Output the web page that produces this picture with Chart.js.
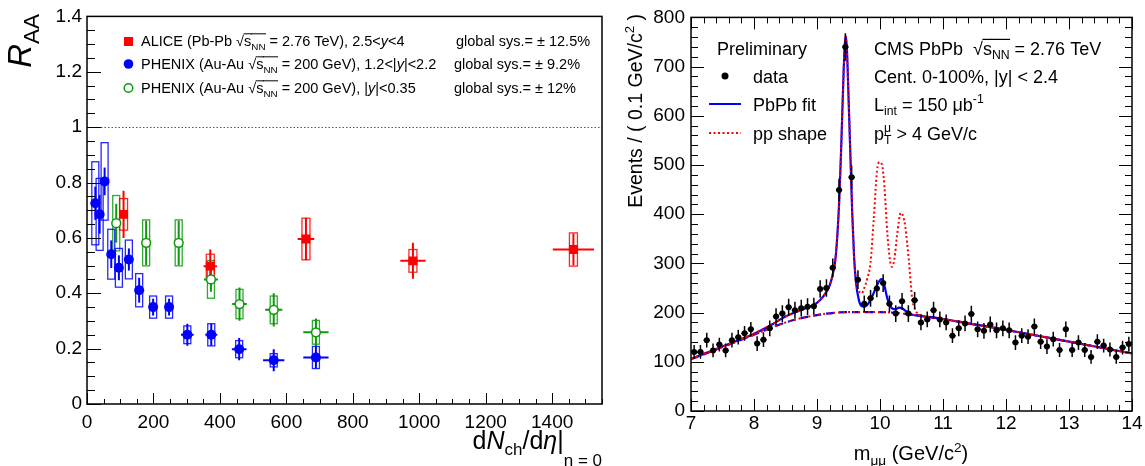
<!DOCTYPE html>
<html>
<head>
<meta charset="utf-8">
<script src="https://cdn.jsdelivr.net/npm/chart.js@4.4.1/dist/chart.umd.min.js"></script>
<style>
  html, body { margin: 0; padding: 0; background: #fff; }
  #wrap { position: relative; width: 1145px; height: 466px; overflow: hidden; background: #fff; }
  .pane { position: absolute; top: 0; height: 466px; }
  #left { left: 0; width: 620px; }
  #right { left: 620px; width: 525px; }
</style>
</head>
<body>
<div id="wrap">
  <div class="pane" id="left"><canvas id="chart-raa" width="620" height="466"></canvas></div>
  <div class="pane" id="right"><canvas id="chart-mass" width="525" height="466"></canvas></div>
</div>
<script>
// ---------- Panel izquierdo: R_AA vs dNch/deta ----------
const raaXTicks = [0, 200, 400, 600, 800, 1000, 1200, 1400];
const raaYTicks = [0, 0.2, 0.4, 0.6, 0.8, 1, 1.2, 1.4];

const aliceX    = [110, 371, 659, 981, 1464];
const aliceY    = [0.685, 0.498, 0.596, 0.517, 0.558];
const aliceStat = [0.085, 0.06, 0.077, 0.065, 0.058];
const aliceSys  = [0.057, 0.043, 0.075, 0.041, 0.06];
const aliceXErr = [8, 20, 25, 38, 62];

const fwdX    = [25, 38, 53, 73, 96, 126, 157, 199, 247, 302, 374, 458, 562, 689];
const fwdY    = [0.725, 0.685, 0.804, 0.541, 0.492, 0.522, 0.411, 0.35, 0.35, 0.25, 0.25, 0.198, 0.158, 0.168];
const fwdStat = [0.06, 0.07, 0.05, 0.05, 0.045, 0.04, 0.045, 0.03, 0.03, 0.04, 0.04, 0.04, 0.04, 0.04];
const fwdSys  = [0.15, 0.13, 0.14, 0.09, 0.07, 0.07, 0.06, 0.04, 0.04, 0.032, 0.04, 0.031, 0.024, 0.04];
const fwdXErr = [0, 0, 0, 0, 0, 0, 0, 10, 10, 19, 18, 22, 32, 38];

const midX    = [88, 178, 276, 373, 459, 562, 689];
const midY    = [0.653, 0.582, 0.582, 0.45, 0.361, 0.34, 0.259];
const midStat = [0.07, 0.08, 0.08, 0.045, 0.06, 0.06, 0.05];
const midSys  = [0.1, 0.083, 0.083, 0.068, 0.053, 0.05, 0.043];
const midXErr = [0, 0, 0, 21, 22, 26, 38];

// ---------- Panel derecho: masa dimuon ----------
const massTicks  = [7, 8, 9, 10, 11, 12, 13, 14];
const eventTicks = [0, 100, 200, 300, 400, 500, 600, 700, 800];

const massX = [7.05, 7.15, 7.25, 7.35, 7.45, 7.55, 7.65, 7.75, 7.85, 7.95,
               8.05, 8.15, 8.25, 8.35, 8.45, 8.55, 8.65, 8.75, 8.85, 8.95,
               9.05, 9.15, 9.25, 9.35, 9.45, 9.55, 9.65, 9.75, 9.85, 9.95,
               10.05, 10.15, 10.25, 10.35, 10.45, 10.55, 10.65, 10.75, 10.85, 10.95,
               11.05, 11.15, 11.25, 11.35, 11.45, 11.55, 11.65, 11.75, 11.85, 11.95,
               12.05, 12.15, 12.25, 12.35, 12.45, 12.55, 12.65, 12.75, 12.85, 12.95,
               13.05, 13.15, 13.25, 13.35, 13.45, 13.55, 13.65, 13.75, 13.85, 13.95];
const events = [120, 120, 144, 123, 135, 123, 144, 150, 158, 166,
                137, 145, 168, 192, 198, 211, 205, 209, 212, 213,
                248, 250, 291, 449, 740, 475, 267, 218, 229, 249,
                260, 218, 198, 223, 198, 225, 180, 186, 205, 186,
                180, 153, 168, 178, 197, 166, 163, 176, 164, 168,
                164, 139, 153, 151, 172, 141, 131, 146, 124, 166,
                124, 139, 124, 110, 141, 133, 125, 110, 129, 136];
const eventsErr = [14, 14, 15, 14, 14, 14, 15, 15, 15, 15,
                   15, 15, 16, 17, 17, 17, 17, 17, 17, 17,
                   18, 18, 19, 23, 28, 24, 19, 17, 17, 18,
                   18, 17, 17, 17, 17, 17, 16, 16, 17, 16,
                   16, 15, 16, 16, 17, 16, 16, 16, 16, 16,
                   16, 15, 15, 15, 16, 15, 15, 15, 14, 16,
                   14, 15, 14, 14, 15, 14, 14, 14, 14, 15];

// curva del ajuste PbPb
const fitX = [7.0, 7.5, 8.0, 8.3, 8.5, 8.7, 8.9, 9.0, 9.1, 9.2, 9.25, 9.3, 9.35, 9.38, 9.41, 9.435, 9.455,
              9.475, 9.5, 9.53, 9.56, 9.59, 9.62, 9.66, 9.7, 9.75, 9.8, 9.85, 9.9, 9.95, 10.0, 10.03,
              10.07, 10.11, 10.15, 10.2, 10.25, 10.3, 10.35, 10.4, 10.45, 10.5, 10.6, 11.0, 11.5,
              12.0, 12.5, 13.0, 13.5, 14.0];
const fitY = [106, 131, 157, 177, 192, 203, 213, 220, 233, 255, 278, 318, 420, 520, 640, 730, 762,
              735, 640, 520, 400, 310, 260, 228, 214, 212, 216, 226, 240, 255, 266, 268,
              255, 232, 216, 208, 207, 210, 209, 204, 200, 196, 194, 187, 176,
              165, 153, 141, 129, 117];
// forma pp (punteada roja)
const ppX = [7.0, 7.5, 8.0, 8.3, 8.5, 8.7, 8.9, 9.0, 9.1, 9.2, 9.25, 9.3, 9.35, 9.38, 9.41, 9.435, 9.455,
             9.475, 9.5, 9.53, 9.56, 9.59, 9.62, 9.66, 9.71, 9.75, 9.8, 9.85, 9.9, 9.96, 10.0, 10.04,
             10.07, 10.12, 10.16, 10.19, 10.23, 10.27, 10.33, 10.37, 10.4, 10.46, 10.51, 10.55, 10.6,
             11.0, 11.5, 12.0, 12.5, 13.0, 13.5, 14.0];
const ppY = [106, 131, 157, 177, 192, 203, 213, 220, 233, 255, 278, 318, 420, 520, 640, 730, 762,
             735, 640, 520, 400, 310, 262, 245, 239, 250, 270, 302, 389, 496, 506, 495,
             456, 356, 305, 293, 310, 356, 403, 395, 376, 303, 229, 209, 198,
             187, 176, 165, 153, 141, 129, 117];
// fondo
const bgX = [7.0, 7.5, 8.0, 8.5, 9.0, 9.5, 10.0, 10.5, 11.0, 11.5, 12.0, 12.5, 13.0, 13.5, 14.0];
const bgY = [105, 130, 155, 180, 195, 201, 201, 196, 187, 176, 165, 153, 141, 129, 117];

const FONT = "'Liberation Sans', Arial, Helvetica, sans-serif";
const RED = '#ff0000';
const BLUE = '#0000ff';
const GREEN = '#0a9a0a';

const pts = (xs, ys) => xs.map((x, i) => ({ x, y: ys[i] }));

/* --------- texto con sub/superindices --------- */
function rich(ctx, segs, x, y, size, align){
  const items = segs.map(s => {
    const small = s.sub || s.sup;
    const sz = small ? size * (s.scale || 0.68) : size;
    const font = (s.it ? 'italic ' : '') + sz + 'px ' + FONT;
    ctx.font = font;
    return Object.assign({}, s, { font, w: ctx.measureText(s.t).width });
  });
  const total = items.reduce((a, it) => a + (it.keep ? 0 : it.w), 0);
  let cx = align === 'right' ? x - total : align === 'center' ? x - total / 2 : x;
  ctx.textAlign = 'left';
  ctx.textBaseline = 'alphabetic';
  for (const it of items){
    ctx.font = it.font;
    const dy = it.dy != null ? it.dy : it.sub ? size * 0.25 : it.sup ? -size * 0.4 : 0;
    ctx.fillText(it.t, cx, y + dy);
    if (it.over){
      ctx.save();
      ctx.lineWidth = Math.max(1, size / 15);
      ctx.strokeStyle = ctx.fillStyle;
      ctx.beginPath();
      const oy = y - size * 0.84;
      ctx.moveTo(cx - 0.5, oy); ctx.lineTo(cx + it.w + 0.5, oy);
      ctx.stroke();
      ctx.restore();
    }
    if (!it.keep) cx += it.w;
  }
  return total;
}

/* --------- marco y marcas hacia adentro --------- */
function drawFrame(chart, spec){
  const { ctx, chartArea: a, scales } = chart;
  ctx.save();
  ctx.strokeStyle = '#000';
  ctx.lineWidth = 1;
  ctx.beginPath();
  const xs = scales.x, ys = scales.y;
  const nx = Math.round((xs.max - xs.min) / spec.x.minor);
  for (let i = 0; i <= nx; i++){
    const v = xs.min + i * spec.x.minor;
    const r = v / spec.x.major;
    const len = Math.abs(r - Math.round(r)) < 1e-6 ? spec.x.majLen : spec.x.minLen;
    const px = Math.round(xs.getPixelForValue(v)) + 0.5;
    ctx.moveTo(px, a.bottom); ctx.lineTo(px, a.bottom - len);
    if (spec.mirror){ ctx.moveTo(px, a.top); ctx.lineTo(px, a.top + len); }
  }
  const ny = Math.round((ys.max - ys.min) / spec.y.minor);
  for (let i = 0; i <= ny; i++){
    const v = ys.min + i * spec.y.minor;
    const r = v / spec.y.major;
    const len = Math.abs(r - Math.round(r)) < 1e-6 ? spec.y.majLen : spec.y.minLen;
    const py = Math.round(ys.getPixelForValue(v)) + 0.5;
    ctx.moveTo(a.left, py); ctx.lineTo(a.left + len, py);
    if (spec.mirror){ ctx.moveTo(a.right, py); ctx.lineTo(a.right - len, py); }
  }
  ctx.stroke();
  ctx.lineWidth = 1.5;
  ctx.strokeRect(a.left, a.top, a.width, a.height);
  ctx.restore();
}

/* --------- barras de error y cajas sistematicas --------- */
function drawErrs(ctx, x, y, xs, ys, stat, sys, xerr, color, half){
  ctx.save();
  ctx.strokeStyle = color;
  xs.forEach((xv, i) => {
    const px = x.getPixelForValue(xv);
    const py = y.getPixelForValue(ys[i]);
    const top = y.getPixelForValue(ys[i] + sys[i]);
    const bot = y.getPixelForValue(ys[i] - sys[i]);
    ctx.lineWidth = 1.3;
    ctx.globalAlpha = 0.85;
    ctx.strokeRect(px - half, top, 2 * half, bot - top);
    ctx.globalAlpha = 1;
    ctx.lineWidth = 2;
    ctx.beginPath();
    ctx.moveTo(px, y.getPixelForValue(ys[i] - stat[i]));
    ctx.lineTo(px, y.getPixelForValue(ys[i] + stat[i]));
    if (xerr[i] > 0){
      ctx.moveTo(x.getPixelForValue(xv - xerr[i]), py);
      ctx.lineTo(x.getPixelForValue(xv + xerr[i]), py);
    }
    ctx.stroke();
  });
  ctx.restore();
}

const raaDecor = {
  id: 'raaDecor',
  beforeDatasetsDraw(chart){
    const { ctx, scales: { x, y }, chartArea: a } = chart;
    ctx.save();
    ctx.strokeStyle = '#555';
    ctx.lineWidth = 1;
    ctx.setLineDash([1.5, 2]);
    ctx.beginPath();
    const p1 = Math.round(y.getPixelForValue(1)) + 0.5;
    ctx.moveTo(a.left, p1); ctx.lineTo(a.right, p1);
    ctx.stroke();
    ctx.restore();
    drawErrs(ctx, x, y, midX, midY, midStat, midSys, midXErr, GREEN, 3.5);
    drawErrs(ctx, x, y, fwdX, fwdY, fwdStat, fwdSys, fwdXErr, BLUE, 3.5);
    drawErrs(ctx, x, y, aliceX, aliceY, aliceStat, aliceSys, aliceXErr, RED, 4);
  },
  afterDraw(chart){
    const { ctx } = chart;
    drawFrame(chart, {
      x: { minor: 50, major: 200, majLen: 11, minLen: 5 },
      y: { minor: 0.05, major: 0.2, majLen: 14, minLen: 8 },
      mirror: false
    });
    ctx.save();
    // leyenda
    ctx.fillStyle = RED;
    ctx.fillRect(124, 37, 9, 9);
    ctx.beginPath(); ctx.fillStyle = BLUE; ctx.arc(128.5, 64, 4.8, 0, Math.PI * 2); ctx.fill();
    ctx.beginPath(); ctx.strokeStyle = GREEN; ctx.lineWidth = 1.5; ctx.arc(128.5, 88, 4.3, 0, Math.PI * 2); ctx.stroke();
    ctx.fillStyle = '#000';
    const ls = 14.5;
    rich(ctx, [{ t: 'ALICE (Pb-Pb ' }, { t: '√' }, { t: 's', over: 1 }, { t: 'NN', sub: 1, over: 1 },
               { t: ' = 2.76 TeV), 2.5<' }, { t: 'y', it: 1 }, { t: '<4' }], 141, 46, ls);
    rich(ctx, [{ t: 'global sys.= ± 12.5%' }], 456, 46, ls);
    rich(ctx, [{ t: 'PHENIX (Au-Au ' }, { t: '√' }, { t: 's', over: 1 }, { t: 'NN', sub: 1, over: 1 },
               { t: ' = 200 GeV), 1.2<|' }, { t: 'y', it: 1 }, { t: '|<2.2' }], 141, 69, ls);
    rich(ctx, [{ t: 'global sys.= ± 9.2%' }], 454, 69, ls);
    rich(ctx, [{ t: 'PHENIX (Au-Au ' }, { t: '√' }, { t: 's', over: 1 }, { t: 'NN', sub: 1, over: 1 },
               { t: ' = 200 GeV), |' }, { t: 'y', it: 1 }, { t: '|<0.35' }], 141, 93, ls);
    rich(ctx, [{ t: 'global sys.= ± 12%' }], 454, 93, ls);
    // titulos de ejes
    rich(ctx, [{ t: 'd' }, { t: 'N', it: 1 }, { t: 'ch', sub: 1 }, { t: '/d' }, { t: 'η', it: 1 }, { t: '|' },
               { t: 'η = 0', sub: 1, dy: 17 }], 602, 449, 25, 'right');
    ctx.translate(31, 14);
    ctx.rotate(-Math.PI / 2);
    rich(ctx, [{ t: 'R', it: 1 }, { t: 'AA', sub: 1 }], 0, 0, 33, 'right');
    ctx.restore();
  }
};

const massDecor = {
  id: 'massDecor',
  afterDatasetsDraw(chart){
    const { ctx, scales: { x, y } } = chart;
    ctx.save();
    ctx.strokeStyle = '#000';
    ctx.lineWidth = 1.5;
    ctx.beginPath();
    massX.forEach((m, i) => {
      const px = x.getPixelForValue(m);
      const py = y.getPixelForValue(events[i]);
      ctx.moveTo(px, y.getPixelForValue(events[i] - eventsErr[i]));
      ctx.lineTo(px, y.getPixelForValue(events[i] + eventsErr[i]));
      ctx.moveTo(x.getPixelForValue(m - 0.05), py);
      ctx.lineTo(x.getPixelForValue(m + 0.05), py);
    });
    ctx.stroke();
    ctx.restore();
  },
  afterDraw(chart){
    const { ctx } = chart;
    drawFrame(chart, {
      x: { minor: 0.2, major: 1, majLen: 12, minLen: 6 },
      y: { minor: 20, major: 100, majLen: 13, minLen: 7 },
      mirror: true
    });
    ctx.save();
    ctx.fillStyle = '#000';
    const fs = 18;
    rich(ctx, [{ t: 'Preliminary' }], 97, 54.5, fs);
    ctx.beginPath(); ctx.arc(105, 76, 3.5, 0, Math.PI * 2); ctx.fill();
    rich(ctx, [{ t: 'data' }], 133, 82.5, fs);
    ctx.strokeStyle = BLUE; ctx.lineWidth = 2;
    ctx.beginPath(); ctx.moveTo(89, 104); ctx.lineTo(121, 104); ctx.stroke();
    rich(ctx, [{ t: 'PbPb fit' }], 133, 110.5, fs);
    ctx.strokeStyle = RED; ctx.setLineDash([2, 2.5]);
    ctx.beginPath(); ctx.moveTo(89, 133); ctx.lineTo(121, 133); ctx.stroke();
    ctx.setLineDash([]);
    rich(ctx, [{ t: 'pp shape' }], 133, 139.5, fs);
    rich(ctx, [{ t: 'CMS PbPb  ' }, { t: '√' }, { t: 's', over: 1 }, { t: 'NN', sub: 1, over: 1 },
               { t: ' = 2.76 TeV' }], 254, 54.5, fs);
    rich(ctx, [{ t: 'Cent. 0-100%, |y| < 2.4' }], 254, 82.5, fs);
    rich(ctx, [{ t: 'L' }, { t: 'int', sub: 1 }, { t: ' = 150 μb' }, { t: '-1', sup: 1 }], 254, 110.5, fs);
    rich(ctx, [{ t: 'p' }, { t: 'μ', sup: 1, keep: 1 }, { t: 'T', sub: 1 }, { t: ' > 4 GeV/c' }], 254, 139.5, fs);
    // titulos de ejes
    rich(ctx, [{ t: 'm' }, { t: 'μμ', sub: 1 }, { t: ' (GeV/c' }, { t: '2', sup: 1 }, { t: ')' }], 291, 460, 20, 'center');
    ctx.translate(22, 14);
    ctx.rotate(-Math.PI / 2);
    rich(ctx, [{ t: 'Events / ( 0.1 GeV/c' }, { t: '2', sup: 1 }, { t: ' )' }], 0, 0, 19.5, 'right');
    ctx.restore();
  }
};

const tickFont = { family: FONT, size: 19 };

window.addEventListener('DOMContentLoaded', () => {
  new Chart(document.getElementById('chart-raa'), {
    type: 'scatter',
    data: {
      datasets: [
        { label: 'ALICE', data: pts(aliceX, aliceY), pointStyle: 'rect', pointRadius: 6.3,
          backgroundColor: RED, borderColor: RED, borderWidth: 0 },
        { label: 'PHENIX 1.2<|y|<2.2', data: pts(fwdX, fwdY), pointStyle: 'circle', pointRadius: 5,
          backgroundColor: BLUE, borderColor: BLUE, borderWidth: 0 },
        { label: 'PHENIX |y|<0.35', data: pts(midX, midY), pointStyle: 'circle', pointRadius: 4.4,
          backgroundColor: '#fff', borderColor: GREEN, borderWidth: 1.5 }
      ]
    },
    options: {
      responsive: false,
      animation: false,
      events: [],
      layout: { padding: { top: 11, right: 18, left: 0, bottom: 0 } },
      plugins: { legend: { display: false }, tooltip: { enabled: false } },
      scales: {
        x: {
          type: 'linear', min: 0, max: 1550,
          grid: { display: false, drawTicks: false }, border: { display: false },
          afterBuildTicks: s => { s.ticks = raaXTicks.map(v => ({ value: v })); },
          afterFit: s => { s.height = 62; },
          ticks: { font: tickFont, color: '#000', padding: 7, maxRotation: 0, callback: v => String(v) }
        },
        y: {
          type: 'linear', min: 0, max: 1.4,
          grid: { display: false, drawTicks: false }, border: { display: false },
          afterBuildTicks: s => { s.ticks = raaYTicks.map(v => ({ value: v })); },
          afterFit: s => { s.width = 87; },
          ticks: { font: tickFont, color: '#000', padding: 5, callback: v => String(Math.round(v * 10) / 10) }
        }
      }
    },
    plugins: [raaDecor]
  });

  new Chart(document.getElementById('chart-mass'), {
    type: 'scatter',
    data: {
      datasets: [
        { label: 'data', data: pts(massX, events), pointStyle: 'circle', pointRadius: 3,
          backgroundColor: '#000', borderWidth: 0, order: 0 },
        { type: 'line', label: 'pp shape', data: pts(ppX, ppY), borderColor: RED, borderWidth: 2,
          borderDash: [2, 2.5], pointRadius: 0, fill: false, cubicInterpolationMode: 'monotone', order: 1 },
        { type: 'line', label: 'pp bkg', data: pts(bgX, bgY), borderColor: RED, borderWidth: 2,
          borderDash: [2, 3], pointRadius: 0, fill: false, cubicInterpolationMode: 'monotone', order: 2 },
        { type: 'line', label: 'PbPb fit', data: pts(fitX, fitY), borderColor: BLUE, borderWidth: 2.2,
          pointRadius: 0, fill: false, cubicInterpolationMode: 'monotone', order: 3 },
        { type: 'line', label: 'PbPb bkg', data: pts(bgX, bgY), borderColor: BLUE, borderWidth: 2.2,
          borderDash: [8, 5], pointRadius: 0, fill: false, cubicInterpolationMode: 'monotone', order: 4 }
      ]
    },
    options: {
      responsive: false,
      animation: false,
      events: [],
      layout: { padding: { top: 12, right: 13, left: 0, bottom: 0 } },
      plugins: { legend: { display: false }, tooltip: { enabled: false } },
      scales: {
        x: {
          type: 'linear', min: 7, max: 14,
          grid: { display: false, drawTicks: false }, border: { display: false },
          afterBuildTicks: s => { s.ticks = massTicks.map(v => ({ value: v })); },
          afterFit: s => { s.height = 55; },
          ticks: { font: tickFont, color: '#000', padding: 1, maxRotation: 0, callback: v => String(v) }
        },
        y: {
          type: 'linear', min: 0, max: 800,
          grid: { display: false, drawTicks: false }, border: { display: false },
          afterBuildTicks: s => { s.ticks = eventTicks.map(v => ({ value: v })); },
          afterFit: s => { s.width = 71; },
          ticks: { font: tickFont, color: '#000', padding: 6, callback: v => String(v) }
        }
      }
    },
    plugins: [massDecor]
  });
});
</script>
</body>
</html>
